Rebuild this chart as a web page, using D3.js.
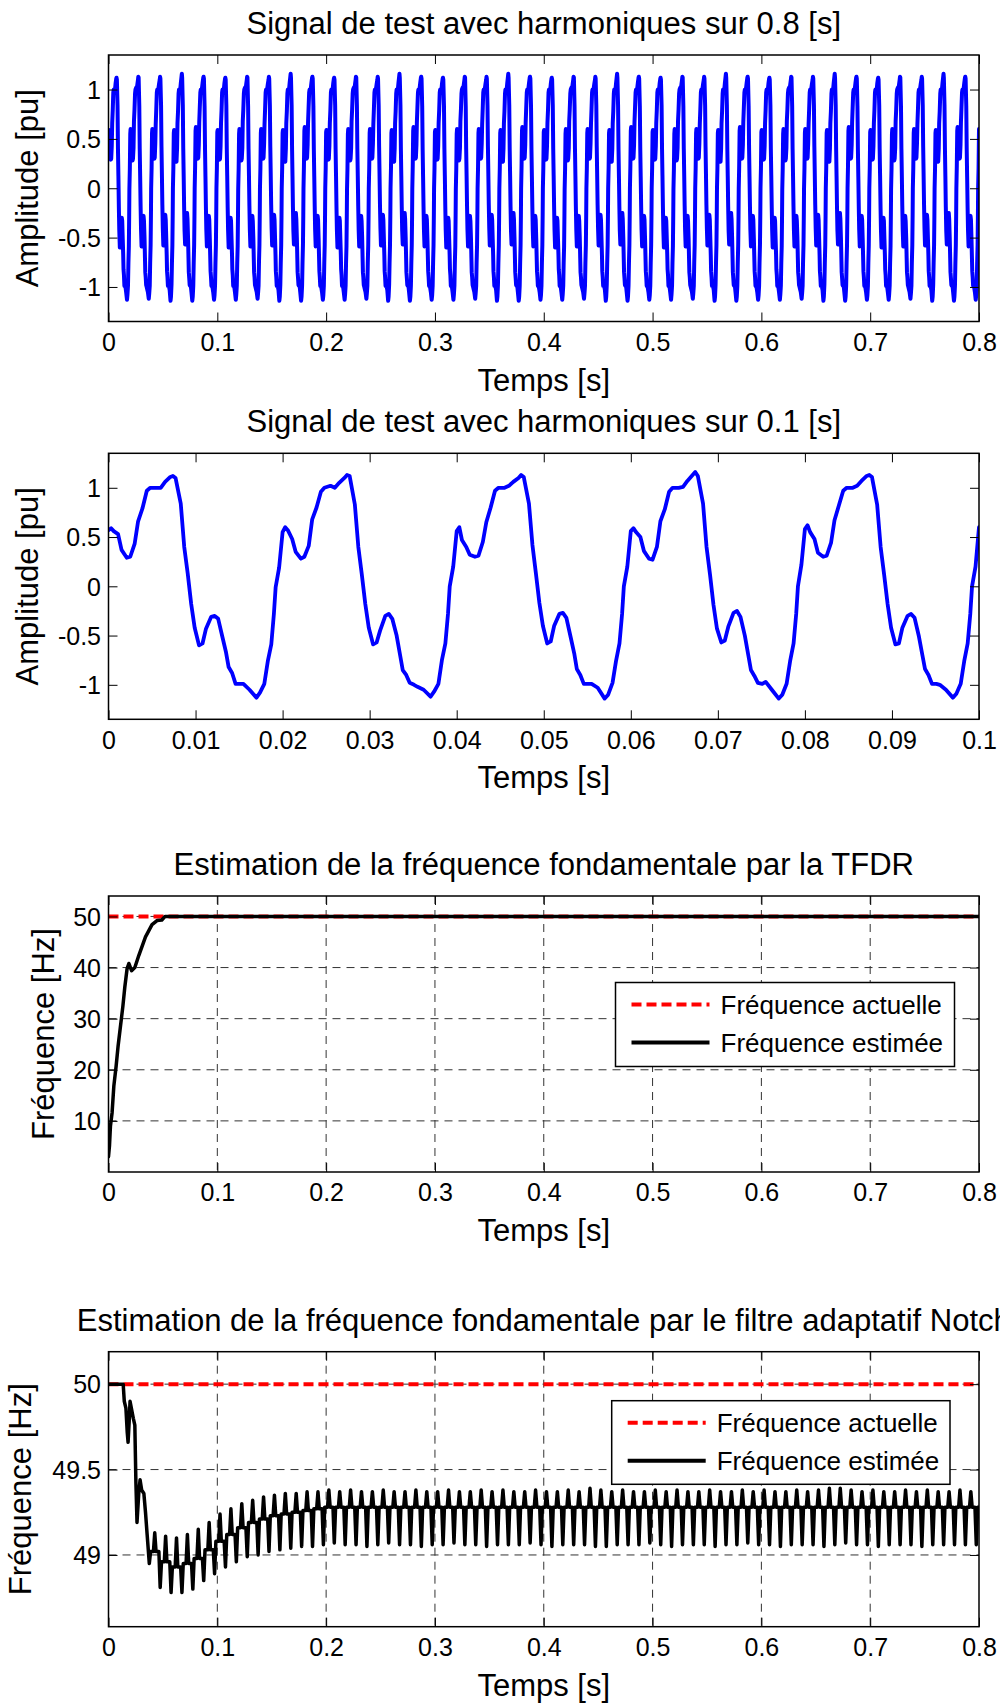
<!DOCTYPE html>
<html>
<head>
<meta charset="utf-8">
<script src="https://cdn.jsdelivr.net/npm/d3@7"></script>
<style>
  body { margin: 0; background: #fff; }
  svg text { font-family: "Liberation Sans", Arial, Helvetica, sans-serif; fill: #000; }
</style>
</head>
<body>
<svg id="fig" width="1000" height="1706"></svg>
<script>
// ---------------------------------------------------------------------------
// Test signal: five consecutive 20 ms cycles (0 - 0.1 s), sampled values [pu]
// ---------------------------------------------------------------------------
const cyclePhaseMs = [0, 0.3, 0.6, 1.1, 1.5, 2.1, 2.5, 3.0, 3.4, 3.9, 4.4, 4.8, 5.5, 6.0, 6.5,
  7.1, 7.4, 7.7, 8.3, 8.7, 9.1, 9.5, 9.9, 10.4, 10.8, 11.2, 11.8, 12.2, 12.6, 13.1, 13.5,
  13.8, 14.2, 14.6, 15.1, 15.5, 16.2, 17.0, 17.4, 17.9, 18.3, 18.7, 19.0, 19.2, 19.6];

const cycle1 = [0.57, 0.59, 0.56, 0.53, 0.37, 0.29, 0.30, 0.43, 0.66, 0.79, 0.97, 1.00, 1.00, 1.00, 1.06,
  1.11, 1.12, 1.10, 0.84, 0.40, 0.13, -0.18, -0.42, -0.60, -0.58, -0.43, -0.31, -0.30, -0.33, -0.52, -0.67,
  -0.82, -0.88, -0.99, -0.99, -0.99, -1.05, -1.13, -1.08, -0.99, -0.76, -0.59, -0.28, -0.01, 0.19];
const cycle2 = [0.55, 0.60, 0.57, 0.48, 0.35, 0.28, 0.30, 0.41, 0.68, 0.80, 0.96, 1.00, 1.02, 1.00, 1.05,
  1.10, 1.13, 1.12, 0.83, 0.40, 0.12, -0.18, -0.42, -0.59, -0.57, -0.45, -0.30, -0.28, -0.33, -0.50, -0.70,
  -0.85, -0.90, -0.98, -1.00, -1.02, -1.05, -1.12, -1.07, -0.99, -0.75, -0.58, -0.28, 0.00, 0.20];
const cycle3 = [0.56, 0.60, 0.47, 0.40, 0.32, 0.30, 0.31, 0.45, 0.65, 0.80, 0.97, 1.00, 1.00, 1.02, 1.06,
  1.10, 1.13, 1.11, 0.84, 0.42, 0.13, -0.17, -0.40, -0.58, -0.56, -0.40, -0.28, -0.27, -0.32, -0.52, -0.68,
  -0.84, -0.90, -0.99, -0.99, -0.99, -1.03, -1.14, -1.10, -0.98, -0.76, -0.58, -0.28, 0.00, 0.20];
const cycle4 = [0.56, 0.59, 0.55, 0.50, 0.36, 0.28, 0.27, 0.40, 0.66, 0.78, 0.96, 1.00, 1.00, 1.01, 1.07,
  1.13, 1.16, 1.12, 0.84, 0.40, 0.12, -0.19, -0.43, -0.57, -0.55, -0.41, -0.27, -0.25, -0.31, -0.50, -0.70,
  -0.85, -0.91, -0.98, -0.99, -0.97, -1.05, -1.14, -1.10, -0.99, -0.76, -0.58, -0.28, 0.00, 0.22];
const cycle5 = [0.58, 0.62, 0.55, 0.48, 0.34, 0.30, 0.31, 0.44, 0.67, 0.82, 0.97, 1.00, 1.00, 1.02, 1.07,
  1.12, 1.13, 1.11, 0.83, 0.40, 0.12, -0.18, -0.42, -0.59, -0.58, -0.42, -0.30, -0.28, -0.32, -0.51, -0.70,
  -0.84, -0.90, -0.99, -0.99, -1.00, -1.05, -1.13, -1.09, -0.99, -0.76, -0.58, -0.28, 0.00, 0.20];
const recordEndValue = 0.60;

// ---------------------------------------------------------------------------
// Fundamental frequency estimated by the TFDR [s, Hz]
// ---------------------------------------------------------------------------
const tfdrTime = [0, 0.0009, 0.0018, 0.0033, 0.0049, 0.0070, 0.0088, 0.0110, 0.0132, 0.0150, 0.0171,
  0.0187, 0.0212, 0.0242, 0.0279, 0.0340, 0.0400, 0.0446, 0.0490, 0.0520, 0.8];
const tfdrFreq = [3.0, 5.1, 9.0, 11.6, 16.8, 20.7, 24.6, 28.5, 32.4, 36.2, 39.8,
  40.8, 39.4, 40.0, 42.4, 46.0, 48.4, 49.2, 49.3, 50.0, 50.0];

// ---------------------------------------------------------------------------
// Fundamental frequency estimated by the adaptive notch filter [s, Hz]
// start-up part, then one ripple cycle every 10 ms (trough / mid level / peak)
// ---------------------------------------------------------------------------
const notchStartTime = [0, 0.0135, 0.0145, 0.0160, 0.0172, 0.0180, 0.0190, 0.0198, 0.0210, 0.0228,
  0.0242, 0.0252, 0.0262, 0.0278, 0.0290, 0.0305, 0.0325, 0.0340, 0.0355];
const notchStartFreq = [50, 50, 49.90, 49.86, 49.72, 49.66, 49.78, 49.90, 49.86, 49.80,
  49.76, 49.42, 49.19, 49.36, 49.44, 49.38, 49.36, 49.25, 49.12];

const rippleFirstTrough = 0.0375;
const rippleTroughs = [48.95, 48.81, 48.78, 48.78, 48.80, 48.85, 48.89, 48.93, 48.96, 48.99,
  49.00, 49.02, 49.03, 49.04, 49.05, 49.05, 49.06, 49.07, 49.06, 49.06,
  49.05, 49.06, 49.07, 49.06, 49.06, 49.05, 49.06, 49.06, 49.07, 49.06,
  49.06, 49.05, 49.06, 49.06, 49.06, 49.07, 49.06, 49.05, 49.06, 49.06,
  49.06, 49.05, 49.05, 49.06, 49.06, 49.06, 49.07, 49.06, 49.05, 49.06,
  49.06, 49.06, 49.05, 49.06, 49.06, 49.07, 49.06, 49.06, 49.05, 49.06,
  49.06, 49.06, 49.05, 49.06, 49.07, 49.06, 49.06, 49.05, 49.06, 49.06,
  49.06, 49.05, 49.06, 49.06, 49.06, 49.06, 49.06];
const ripplePeaks = [49.13, 49.11, 49.10, 49.12, 49.15, 49.19, 49.24, 49.27, 49.30, 49.32,
  49.34, 49.35, 49.36, 49.36, 49.37, 49.37, 49.38, 49.37, 49.38, 49.37,
  49.37, 49.38, 49.37, 49.37, 49.38, 49.37, 49.37, 49.38, 49.37, 49.37,
  49.38, 49.37, 49.38, 49.37, 49.37, 49.38, 49.37, 49.37, 49.38, 49.37,
  49.39, 49.38, 49.37, 49.38, 49.37, 49.37, 49.38, 49.37, 49.38, 49.37,
  49.37, 49.38, 49.37, 49.37, 49.38, 49.37, 49.38, 49.37, 49.37, 49.38,
  49.37, 49.38, 49.39, 49.39, 49.38, 49.37, 49.38, 49.37, 49.37, 49.38,
  49.37, 49.38, 49.37, 49.37, 49.38, 49.37, 49.38];
const rippleMids = [49.02, 48.96, 48.93, 48.95, 48.98, 49.03, 49.08, 49.12, 49.16, 49.19,
  49.21, 49.23, 49.24, 49.25, 49.26, 49.27, 49.28, 49.28, 49.28, 49.28,
  49.28, 49.28, 49.28, 49.28, 49.28, 49.28, 49.28, 49.28, 49.28, 49.28,
  49.28, 49.28, 49.28, 49.28, 49.28, 49.28, 49.28, 49.28, 49.28, 49.28,
  49.28, 49.28, 49.28, 49.28, 49.28, 49.28, 49.28, 49.28, 49.28, 49.28,
  49.28, 49.28, 49.28, 49.28, 49.28, 49.28, 49.28, 49.28, 49.28, 49.28,
  49.28, 49.28, 49.28, 49.28, 49.28, 49.28, 49.28, 49.28, 49.28, 49.28,
  49.28, 49.28, 49.28, 49.28, 49.28, 49.28, 49.28];
// position of the trough / mid / peak / mid points inside a 10 ms ripple cycle [ms]
const ripplePhaseMs = [0, 1.2, 3.8, 5.0, 6.2, 8.8];

const actualFrequency = 50;

// Tick values
const xTicks08 = [0, 0.1, 0.2, 0.3, 0.4, 0.5, 0.6, 0.7, 0.8];
const xTicks01 = [0, 0.01, 0.02, 0.03, 0.04, 0.05, 0.06, 0.07, 0.08, 0.09, 0.1];
const yTicksSignal = [-1, -0.5, 0, 0.5, 1];
const yTicksTfdr = [10, 20, 30, 40, 50];
const yTicksNotch = [49, 49.5, 50];

// ---------------------------------------------------------------------------
// Series assembly
// ---------------------------------------------------------------------------
const signalCycles = [cycle1, cycle2, cycle3, cycle4, cycle5];

function signalRecord(records) {
  const pts = [];
  for (let r = 0; r < records; r++) {
    signalCycles.forEach((c, i) => {
      const t0 = (r * signalCycles.length + i) * 0.020;
      c.forEach((v, j) => pts.push([t0 + cyclePhaseMs[j] / 1000, v]));
    });
  }
  pts.push([records * 0.1, recordEndValue]);
  return pts;
}

const signalShort = signalRecord(1);
const signalLong = signalRecord(8);
const tfdrSeries = tfdrTime.map((t, i) => [t, tfdrFreq[i]]);
const actualSeries = [[0, actualFrequency], [0.8, actualFrequency]];

const notchSeries = notchStartTime.map((t, i) => [t, notchStartFreq[i]]);
rippleTroughs.forEach((lo, k) => {
  const t0 = rippleFirstTrough + k * 0.010;
  const vals = [lo, rippleMids[k], rippleMids[k], ripplePeaks[k], rippleMids[k], rippleMids[k]];
  ripplePhaseMs.forEach((p, j) => notchSeries.push([t0 + p / 1000, vals[j]]));
});

// ---------------------------------------------------------------------------
// Drawing
// ---------------------------------------------------------------------------
const svg = d3.select("#fig");
svg.append("rect").attr("width", 1000).attr("height", 1706).attr("fill", "#fff");

const X0 = 108.5, X1 = 979;
const fmtNum = d => String(+d.toFixed(2));

function panel(o) {
  const g = svg.append("g");
  const x = d3.scaleLinear().domain(o.xDomain).range([X0, X1]);
  const y = d3.scaleLinear().domain(o.yDomain).range([o.bottom, o.top]);

  svg.append("clipPath").attr("id", "clip" + o.id)
    .append("rect").attr("x", X0).attr("y", o.top)
    .attr("width", X1 - X0).attr("height", o.bottom - o.top);

  if (o.grid) {
    const grid = g.append("g").attr("stroke", "#333").attr("stroke-width", 1)
      .attr("stroke-dasharray", "8,6");
    grid.selectAll(".gx").data(o.xTicks.slice(1, -1)).join("line")
      .attr("x1", d => x(d)).attr("x2", d => x(d))
      .attr("y1", o.top).attr("y2", o.bottom);
    grid.selectAll(".gy").data(o.yTicks).join("line")
      .attr("x1", X0).attr("x2", X1)
      .attr("y1", d => y(d)).attr("y2", d => y(d));
  }

  const line = d3.line().x(d => x(d[0])).y(d => y(d[1]));
  const dataG = g.append("g").attr("clip-path", `url(#clip${o.id})`);
  o.series.forEach(s => {
    dataG.append("path").datum(s.points)
      .attr("d", line)
      .attr("fill", "none")
      .attr("stroke", s.color)
      .attr("stroke-width", s.width)
      .attr("stroke-dasharray", s.dash || null)
      .attr("stroke-linejoin", "round")
      .attr("stroke-linecap", s.dash ? "butt" : "round");
  });

  const styleAxis = (sel) => {
    sel.select(".domain").remove();
    sel.selectAll(".tick line").attr("stroke", "#000").attr("stroke-width", 1);
    sel.attr("font-family", '"Liberation Sans", Arial, sans-serif').attr("font-size", 25);
    sel.selectAll(".tick text").attr("fill", "#000");
  };

  g.append("g").attr("transform", `translate(0,${o.bottom})`)
    .call(d3.axisBottom(x).tickValues(o.xTicks).tickFormat(fmtNum)
      .tickSizeInner(-9).tickSizeOuter(0).tickPadding(11.5))
    .call(styleAxis);
  g.append("g").attr("transform", `translate(0,${o.top})`)
    .call(d3.axisTop(x).tickValues(o.xTicks).tickFormat(() => "")
      .tickSizeInner(-9).tickSizeOuter(0))
    .call(styleAxis);
  g.append("g").attr("transform", `translate(${X0},0)`)
    .call(d3.axisLeft(y).tickValues(o.yTicks).tickFormat(fmtNum)
      .tickSizeInner(-9).tickSizeOuter(0).tickPadding(7.5))
    .call(styleAxis)
    .call(s => s.selectAll(".tick text").attr("dy", "0.35em"));
  g.append("g").attr("transform", `translate(${X1},0)`)
    .call(d3.axisRight(y).tickValues(o.yTicks).tickFormat(() => "")
      .tickSizeInner(-9).tickSizeOuter(0))
    .call(styleAxis);

  g.append("rect").attr("x", X0).attr("y", o.top)
    .attr("width", X1 - X0).attr("height", o.bottom - o.top)
    .attr("fill", "none").attr("stroke", "#000").attr("stroke-width", 1.5);

  g.append("text").attr("x", (X0 + X1) / 2).attr("y", o.top - 21)
    .attr("text-anchor", "middle").attr("font-size", 31).text(o.title);
  g.append("text").attr("x", (X0 + X1) / 2).attr("y", o.bottom + 69)
    .attr("text-anchor", "middle").attr("font-size", 31).text("Temps [s]");
  g.append("text")
    .attr("transform", `translate(${o.yLabelX},${(o.top + o.bottom) / 2}) rotate(-90)`)
    .attr("text-anchor", "middle").attr("font-size", 31).text(o.yLabel);

  if (o.legend) {
    const L = o.legend;
    const lg = g.append("g");
    lg.append("rect").attr("x", L.x).attr("y", L.y).attr("width", L.w).attr("height", L.h)
      .attr("fill", "#fff").attr("stroke", "#000").attr("stroke-width", 1.5);
    L.items.forEach((it, i) => {
      const cy = L.y + 22 + i * 38;
      lg.append("line").attr("x1", L.x + 16).attr("x2", L.x + 94)
        .attr("y1", cy).attr("y2", cy)
        .attr("stroke", it.color).attr("stroke-width", it.width)
        .attr("stroke-dasharray", it.dash || null);
      lg.append("text").attr("x", L.x + 105).attr("y", cy).attr("dy", "0.35em")
        .attr("font-size", 26).text(it.label);
    });
  }
}

const legendItems = [
  { label: "Fréquence actuelle", color: "#ff0000", width: 4, dash: "10,5" },
  { label: "Fréquence estimée", color: "#000", width: 4 }
];

panel({
  id: 1, top: 55, bottom: 321.5, xDomain: [0, 0.8], yDomain: [-1.35, 1.35],
  xTicks: xTicks08, yTicks: yTicksSignal, yLabelX: 38,
  title: "Signal de test avec harmoniques sur 0.8 [s]", yLabel: "Amplitude [pu]",
  series: [{ points: signalLong, color: "#0000ff", width: 4 }]
});

panel({
  id: 2, top: 453.3, bottom: 719.3, xDomain: [0, 0.1], yDomain: [-1.35, 1.35],
  xTicks: xTicks01, yTicks: yTicksSignal, yLabelX: 38,
  title: "Signal de test avec harmoniques sur 0.1 [s]", yLabel: "Amplitude [pu]",
  series: [{ points: signalShort, color: "#0000ff", width: 3.8 }]
});

panel({
  id: 3, top: 896, bottom: 1172, xDomain: [0, 0.8], yDomain: [0, 54],
  xTicks: xTicks08, yTicks: yTicksTfdr, yLabelX: 54, grid: true,
  title: "Estimation de la fréquence fondamentale par la TFDR", yLabel: "Fréquence [Hz]",
  series: [
    { points: actualSeries, color: "#ff0000", width: 4, dash: "10,5" },
    { points: tfdrSeries, color: "#000", width: 3.5 }
  ],
  legend: { x: 615.5, y: 982.5, w: 339, h: 84, items: legendItems }
});

panel({
  id: 4, top: 1351.7, bottom: 1626.7, xDomain: [0, 0.8], yDomain: [48.58, 50.19],
  xTicks: xTicks08, yTicks: yTicksNotch, yLabelX: 30.5, grid: true,
  title: "Estimation de la fréquence fondamentale par le filtre adaptatif Notch", yLabel: "Fréquence [Hz]",
  series: [
    { points: actualSeries, color: "#ff0000", width: 4, dash: "10,5" },
    { points: notchSeries, color: "#000", width: 3.5 }
  ],
  legend: { x: 611.7, y: 1400.7, w: 338.3, h: 83.6, items: legendItems }
});
</script>
</body>
</html>
